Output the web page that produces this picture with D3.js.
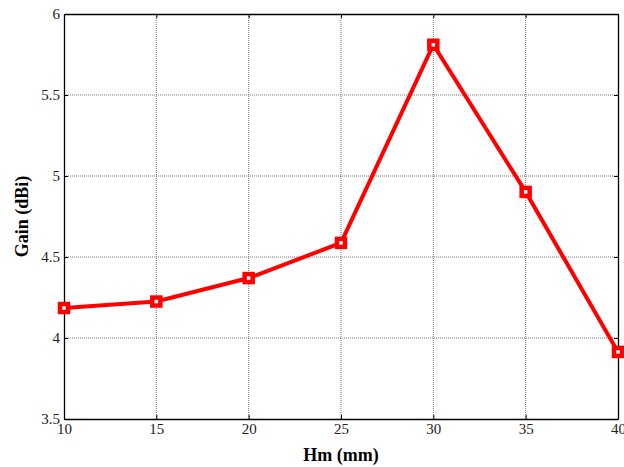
<!DOCTYPE html>
<html><head><meta charset="utf-8">
<script src="https://cdn.jsdelivr.net/npm/d3@7"></script>
<style>html,body{margin:0;padding:0;background:#fff;}svg{display:block;font-family:"Liberation Serif","Times New Roman",serif;}
svg text{font-family:"Liberation Serif","Times New Roman",serif;}</style>
</head><body>
<svg id="c" width="624" height="467"></svg>
<script>
const hm = [10, 15, 20, 25, 30, 35, 40];
const gain = [4.185, 4.225, 4.37, 4.587, 5.81, 4.902, 3.914];
const xTicks = [10, 15, 20, 25, 30, 35, 40];
const yTicks = [3.5, 4, 4.5, 5, 5.5, 6];

const svg = d3.select("#c");
const L = 64, R = 618, T = 14, B = 419;
const x = d3.scaleLinear().domain([10, 40]).range([L, R]);
const y = d3.scaleLinear().domain([3.5, 6]).range([B, T]);
const FONT = "'Liberation Serif', 'Times New Roman', serif";

// grid
const g = svg.append("g");
g.selectAll("line.vx").data(xTicks.slice(1, -1)).join("line")
  .attr("x1", d => x(d)).attr("x2", d => x(d)).attr("y1", T).attr("y2", B)
  .attr("stroke", "#777").attr("stroke-width", 1).attr("stroke-dasharray", "1,1");
g.selectAll("line.hy").data(yTicks.slice(1, -1)).join("line")
  .attr("y1", d => y(d)).attr("y2", d => y(d)).attr("x1", L).attr("x2", R)
  .attr("stroke", "#777").attr("stroke-width", 1).attr("stroke-dasharray", "1,1");

// axes
const fs = 15;
const fmt = d3.format("");
const ax = svg.append("g").attr("transform", `translate(0,${B})`)
  .call(d3.axisBottom(x).tickValues(xTicks).tickSizeInner(-4).tickSizeOuter(0).tickFormat(fmt));
const axT = svg.append("g").attr("transform", `translate(0,${T})`)
  .call(d3.axisTop(x).tickValues(xTicks).tickSizeInner(-4).tickSizeOuter(0).tickFormat(""));
const ay = svg.append("g").attr("transform", `translate(${L},0)`)
  .call(d3.axisLeft(y).tickValues(yTicks).tickSizeInner(-4).tickSizeOuter(0).tickFormat(fmt));
const ayR = svg.append("g").attr("transform", `translate(${R},0)`)
  .call(d3.axisRight(y).tickValues(yTicks).tickSizeInner(-4).tickSizeOuter(0).tickFormat(""));
[ax, axT, ay, ayR].forEach(a => {
  a.attr("font-family", FONT).attr("font-size", fs);
  a.selectAll("path.domain").attr("stroke", "#000").attr("stroke-width", 1.3);
  a.selectAll(".tick line").attr("stroke", "#000");
  a.selectAll("text").attr("fill", "#222");
});
ax.selectAll("text").attr("y", 4).attr("dy", "0.71em");
ay.selectAll("text").attr("x", -4).attr("dy", "0.32em");

// line
const line = d3.line().x((d, i) => x(hm[i])).y(d => y(d));
svg.append("path").datum(gain).attr("d", line)
  .attr("fill", "none").attr("stroke", "#ff0000").attr("stroke-width", 4).attr("stroke-linejoin", "miter");
svg.selectAll("rect.m").data(gain).join("rect")
  .attr("x", (d, i) => x(hm[i]) - 4).attr("y", d => y(d) - 4)
  .attr("width", 8).attr("height", 8)
  .attr("fill", "#fff").attr("stroke", "#ff0000").attr("stroke-width", 4.5);

// titles
svg.append("text").attr("x", 341).attr("y", 461).attr("text-anchor", "middle")
  .attr("font-size", 18).attr("font-weight", "bold").attr("font-family", FONT).text("Hm (mm)");
svg.append("text").attr("transform", `translate(28,${(T + B) / 2}) rotate(-90)`).attr("text-anchor", "middle")
  .attr("font-size", 18).attr("font-weight", "bold").attr("font-family", FONT).text("Gain (dBi)");
</script>
</body></html>
